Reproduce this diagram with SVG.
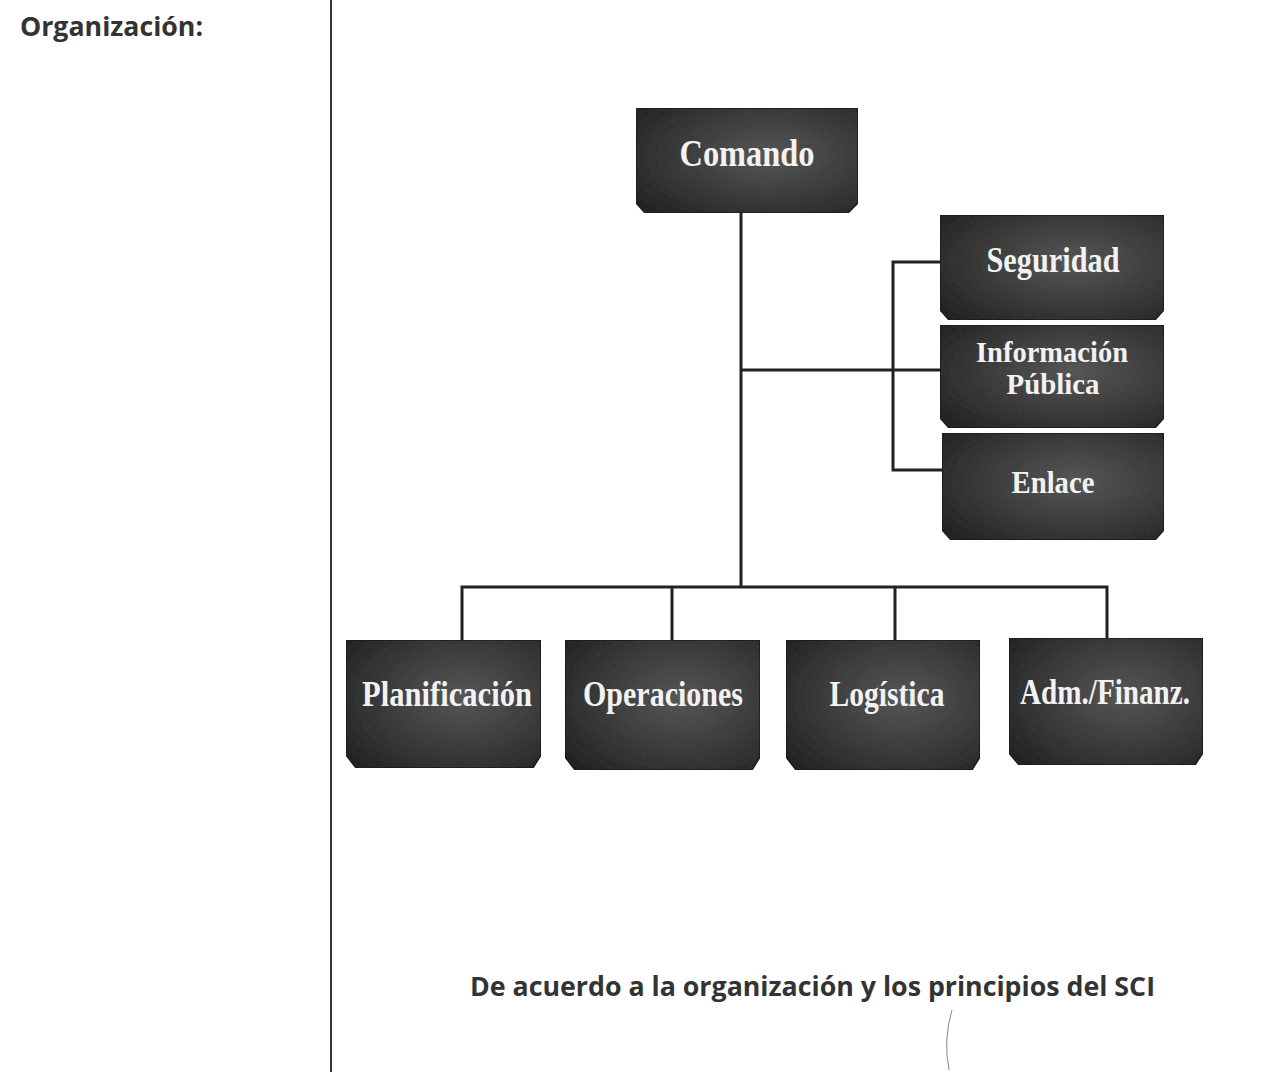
<svg xmlns="http://www.w3.org/2000/svg" width="1286" height="1078" viewBox="0 0 1286 1078">
  <defs>
    <radialGradient id="boxfill" cx="0.6" cy="0.45" r="0.75">
      <stop offset="0" stop-color="#565656"/>
      <stop offset="0.55" stop-color="#3a3a3a"/>
      <stop offset="1" stop-color="#222222"/>
    </radialGradient>
    <filter id="grain" x="0" y="0" width="1" height="1">
      <feTurbulence type="fractalNoise" baseFrequency="0.9" numOctaves="2" seed="3" result="n"/>
      <feColorMatrix in="n" type="matrix" values="0 0 0 0 0.5  0 0 0 0 0.5  0 0 0 0 0.5  0 0 0 0.35 0" result="g"/>
      <feComposite in="g" in2="SourceGraphic" operator="in" result="gi"/>
      <feBlend in="SourceGraphic" in2="gi" mode="overlay"/>
    </filter>
    <style>
      .box { fill: url(#boxfill); stroke: #1a1a1a; stroke-width: 1.5; filter: url(#grain); }
      .lbl { font-family: "Liberation Serif", "DejaVu Serif", serif; fill: #f2f2f2; text-anchor: middle; font-weight: bold; }
      .conn { fill: none; stroke: #222; stroke-width: 3; }
      .sans { font-family: "Open Sans", "Noto Sans", "Liberation Sans", sans-serif; font-weight: bold; fill: #333; }
    </style>
  </defs>

  <rect x="0" y="0" width="1286" height="1078" fill="#ffffff"/>

  <line x1="331" y1="0" x2="331" y2="1072" stroke="#333" stroke-width="2"/>

  <text class="sans" x="20" y="36" font-size="27" textLength="183" lengthAdjust="spacingAndGlyphs">Organización:</text>
  <text class="sans" x="470" y="996" font-size="26" textLength="685" lengthAdjust="spacingAndGlyphs">De acuerdo a la organización y los principios del SCI</text>
  <path d="M952 1010 Q943 1040 949 1070" fill="none" stroke="#888" stroke-width="1"/>

  <g id="connectors">
    <path class="conn" d="M741 213 V587"/>
    <path class="conn" d="M741 370 H940"/>
    <path class="conn" d="M940 262 H893 V470 H942"/>
    <path class="conn" d="M462 640 V587 H1107 V638"/>
    <path class="conn" d="M672 587 V640"/>
    <path class="conn" d="M895 587 V640"/>
  </g>

  <g id="comando">
    <path class="box" d="M636 108 H858 V203 L848 213 H645 L636 203 Z"/>
    <text class="lbl" x="747" y="166" font-size="38" textLength="135" lengthAdjust="spacingAndGlyphs">Comando</text>
  </g>

  <g id="seguridad">
    <path class="box" d="M940 215 H1164 V310 L1155 320 H949 L940 310 Z"/>
    <text class="lbl" x="1053" y="272" font-size="36" textLength="133" lengthAdjust="spacingAndGlyphs">Seguridad</text>
  </g>

  <g id="informacion">
    <path class="box" d="M940 325 H1164 V418 L1155 428 H949 L940 418 Z"/>
    <text class="lbl" x="1052" y="362" font-size="29" textLength="152" lengthAdjust="spacingAndGlyphs">Información</text>
    <text class="lbl" x="1053" y="394" font-size="29" textLength="93" lengthAdjust="spacingAndGlyphs">Pública</text>
  </g>

  <g id="enlace">
    <path class="box" d="M942 433 H1164 V530 L1155 540 H951 L942 530 Z"/>
    <text class="lbl" x="1053" y="493" font-size="31" textLength="83" lengthAdjust="spacingAndGlyphs">Enlace</text>
  </g>

  <g id="planificacion">
    <path class="box" d="M346 640 H541 V755 L533 768 H356 L346 755 Z"/>
    <text class="lbl" x="447" y="706" font-size="36" textLength="170" lengthAdjust="spacingAndGlyphs">Planificación</text>
  </g>

  <g id="operaciones">
    <path class="box" d="M565 640 H760 V757 L752 770 H575 L565 757 Z"/>
    <text class="lbl" x="663" y="706" font-size="36" textLength="160" lengthAdjust="spacingAndGlyphs">Operaciones</text>
  </g>

  <g id="logistica">
    <path class="box" d="M786 640 H980 V757 L972 770 H796 L786 757 Z"/>
    <text class="lbl" x="887" y="706" font-size="36" textLength="115" lengthAdjust="spacingAndGlyphs">Logística</text>
  </g>

  <g id="admfinanz">
    <path class="box" d="M1009 638 H1203 V753 L1195 765 H1019 L1009 753 Z"/>
    <text class="lbl" x="1105" y="704" font-size="36" textLength="170" lengthAdjust="spacingAndGlyphs">Adm./Finanz.</text>
  </g>
</svg>
